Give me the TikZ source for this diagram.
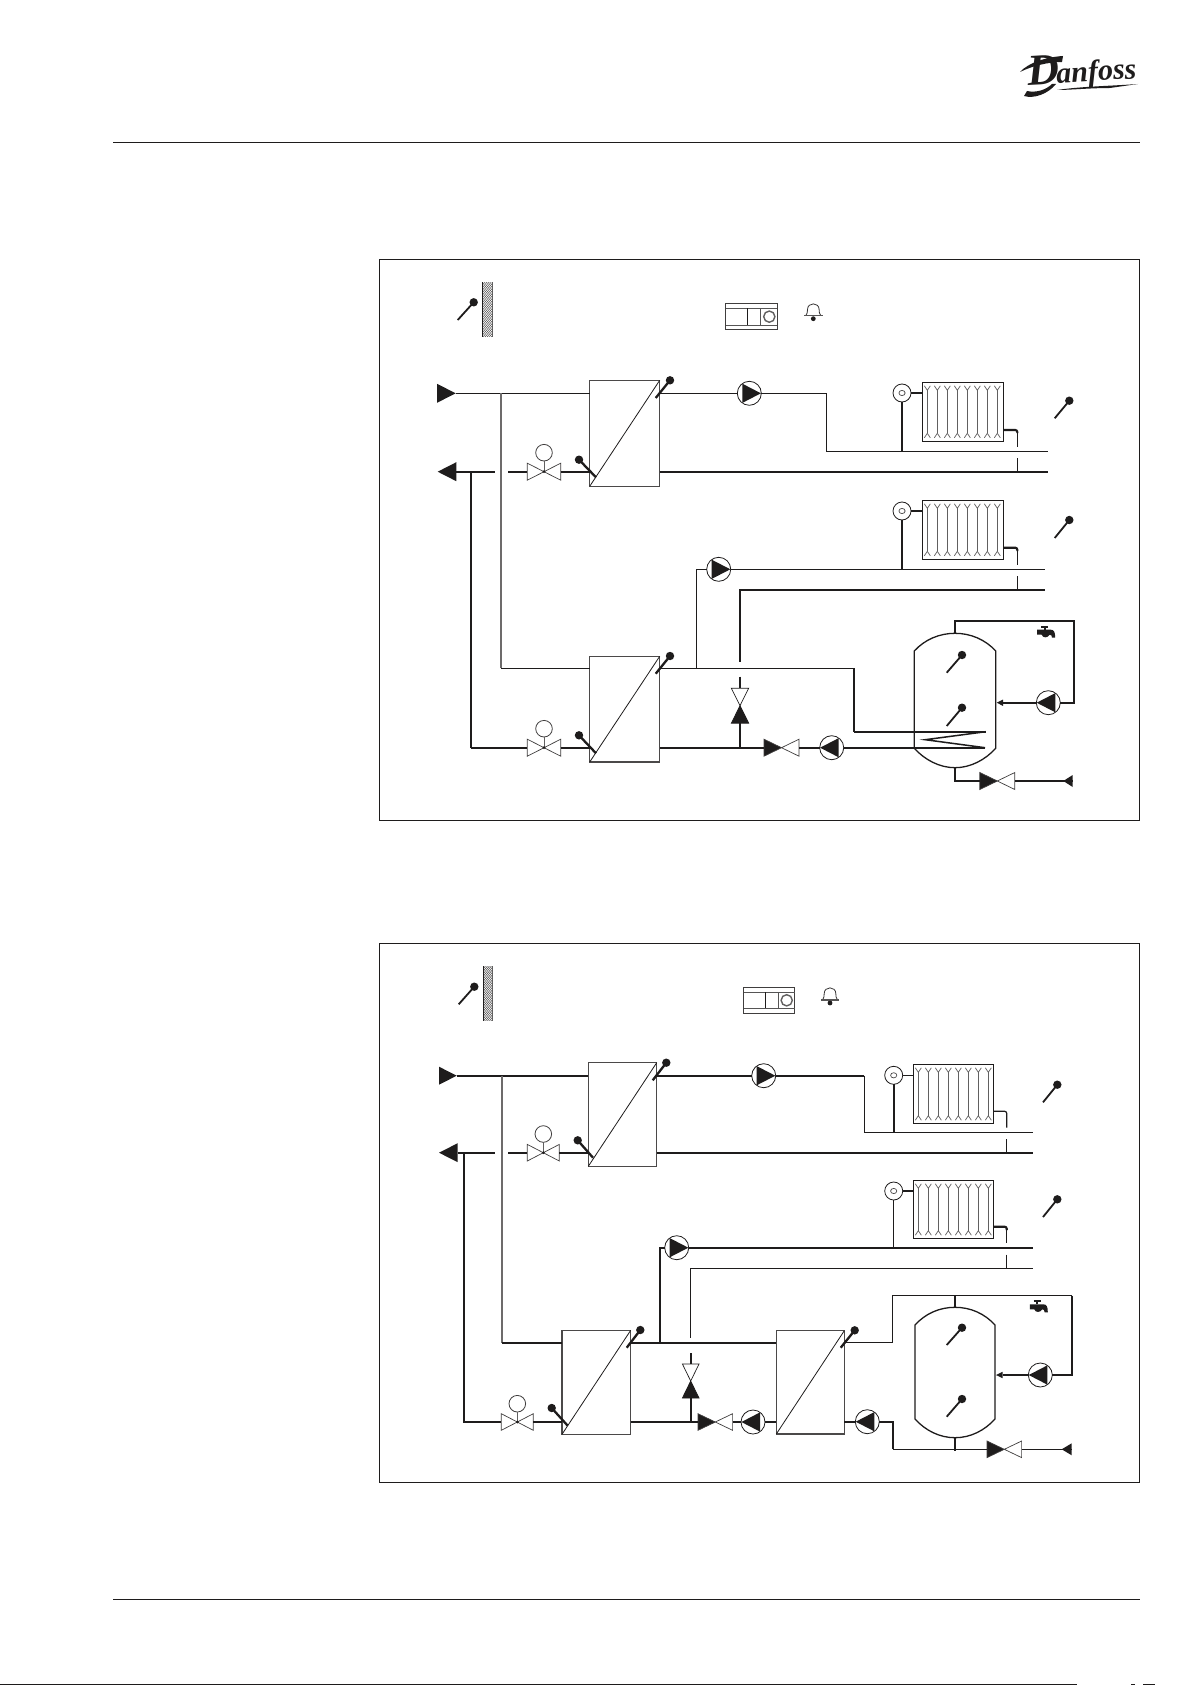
\documentclass[tikz,border=0pt]{standalone}
\usepackage{fontspec}
\setmainfont{Liberation Serif}
\definecolor{ink}{HTML}{1E1C1C}
\tikzset{
  pipe/.style={draw=ink,line width=1.2pt,line join=miter},
  pipem/.style={draw=ink,line width=1.5pt,line join=miter},
  pipek/.style={draw=ink,line width=2.1pt,line join=miter},
  pipeg/.style={draw=ink!65,line width=1.7pt,line join=miter},
  frameb/.style={draw=ink,line width=1.1pt},
  hxbox/.style={draw=ink!80,line width=1.1pt,rectangle,anchor=north west,inner sep=0pt,outer sep=0pt},
  pumpn/.style={draw=ink,line width=0.8pt,circle,minimum size=24pt,inner sep=0pt,outer sep=0pt},
  headn/.style={draw=ink!85,line width=0.8pt,circle,minimum size=16.6pt,inner sep=0pt,outer sep=0pt},
  trvn/.style={draw=ink,line width=0.8pt,circle,minimum size=18pt,inner sep=0pt,outer sep=0pt},
  radn/.style={draw=ink,line width=1pt,rectangle,anchor=north west,inner sep=0pt,outer sep=0pt},
  vbox/.style={rectangle,inner sep=0pt,outer sep=0pt},
  vtri/.style={draw=ink!85,line width=0.7pt,line join=miter},
  radl/.style={draw=ink!70,line width=0.7pt},
  sens/.style={draw=ink,line width=1.8pt},
  sensk/.style={draw=ink,line width=2.3pt}
}
\newcommand\symPump[4]{%
  \node[pumpn] (#1) at (#2,#3) {};
  \fill[ink,shift={(#2,#3)},xscale=#4] (-7,-9.6) -- (11.6,0) -- (-7,9.6) -- cycle;}
\newcommand\symHX[5]{%
  \node[hxbox,minimum width=#4pt,minimum height=#5pt] (#1) at (#2,#3) {};
  \draw[draw=ink,line width=0.8pt] (#1.south west) -- (#1.north east);}
\newcommand\symSensor[5]{%
  \draw[#5] (#1,#2) -- (#3,#4);
  \fill[ink] (#3,#4) circle (4.2);}
\newcommand\symValveH[7]{%
  \node[vbox,minimum width=2*#4pt,minimum height=2*#5pt] (#1) at (#2,#3) {};
  \filldraw[vtri,fill=#6] (#2,#3) -- (#2-#4,#3-#5) -- (#2-#4,#3+#5) -- cycle;
  \filldraw[vtri,fill=#7] (#2,#3) -- (#2+#4,#3-#5) -- (#2+#4,#3+#5) -- cycle;}
\newcommand\symValveV[5]{%
  \node[vbox,minimum width=2*#5pt,minimum height=2*#4pt] (#1) at (#2,#3) {};
  \filldraw[vtri,draw=ink,fill=white] (#2,#3) -- (#2-#5,#3-#4) -- (#2+#5,#3-#4) -- cycle;
  \filldraw[vtri,draw=ink,fill=ink] (#2,#3) -- (#2-#5,#3+#4) -- (#2+#5,#3+#4) -- cycle;}
\newcommand\symMotor[4]{% name, valve name, x, y of head
  \node[headn] (#1) at (#3,#4) {};
  \draw[draw=ink!70,line width=0.9pt] (#1) -- (#2.center);
  \fill[ink] (#2.center) circle (1.5);}
\newcommand\symRad[5]{%
  \node[radn,minimum width=#4pt,minimum height=#5pt] (#1) at (#2,#3) {};
  \foreach \ri in {0,...,7} {
    \pgfmathsetmacro\rcx{#2+5+10*\ri}
    \draw[radl] (\rcx-3,#3+3.5) -- (\rcx,#3+8) -- (\rcx+3,#3+3.5);
    \draw[radl] (\rcx,#3+8) -- (\rcx,#3+#5-8);
    \draw[radl] (\rcx-3,#3+#5-3.5) -- (\rcx,#3+#5-8) -- (\rcx+3,#3+#5-3.5);
  }}
\newcommand\symTRV[3]{%
  \node[trvn] (#1) at (#2,#3) {};
  \draw[draw=ink!80,line width=0.7pt] (#2,#3) circle [x radius=3.1,y radius=2.6];}
\newcommand\symWall[4]{%
  \begin{scope}
    \clip (#1,#2) rectangle (#3,#4);
    \foreach \wi in {0,...,30} {
      \draw[draw=ink!85,line width=0.5pt] (#1,#2+\wi*2.5) -- (#3,#2+\wi*2.5-12);
    }
  \end{scope}
  \draw[draw=ink,line width=1.2pt] (#1,#2) -- (#1,#4);
  \draw[draw=ink!70,line width=0.5pt] (#3,#2) -- (#3,#4);}
\newcommand\symCtrl[8]{% x1 y1 x2 y2 h1 h2 v1 v2
  \draw[draw=ink!85,line width=1pt] (#1,#2) rectangle (#3,#4);
  \draw[draw=ink!75,line width=0.8pt] (#1,#5) -- (#3,#5) (#1,#6) -- (#3,#6) (#8,#5) -- (#8,#6);
  \draw[draw=ink,line width=1pt] (#7,#5) -- (#7,#6);
  \draw[draw=ink!70,line width=1.4pt] (#3-8,#5/2+#6/2) circle (5.6);}
\newcommand\symBell[3]{% cx top base
  \draw[draw=ink!90,line width=0.8pt] (#1-7.5,#3) .. controls (#1-6,#3-2) and (#1-5.8,#3-4) .. (#1-5.8,#2+6) .. controls (#1-5.8,#2-1.5) and (#1+5.8,#2-1.5) .. (#1+5.8,#2+6) .. controls (#1+5.8,#3-4) and (#1+6,#3-2) .. (#1+7.5,#3);
  \draw[draw=ink!75,line width=1.5pt] (#1-9.2,#3) -- (#1+9.2,#3);
  \fill[ink] (#1,#3+3) circle (2.4);}
\newcommand\symTap[2]{%
  \begin{scope}[shift={(#1,#2)}]
  \fill[ink] (-8.5,-3) -- (5,-3) .. controls (8,-3) and (9.5,-1) .. (9.5,5) -- (6.3,5) .. controls (6.3,3) and (5.5,2) .. (4,2) .. controls (2,5.5) and (-3,5.5) .. (-4,2) -- (-8.5,2) -- cycle;
  \draw[draw=ink,line width=1.8pt] (-4.7,-6) -- (2.7,-6);
  \draw[draw=ink,line width=2.2pt] (-1,-6) -- (-1,-3);
  \end{scope}}
\newcommand\symTank[6]{% left right apex top side-top side-bottom apex-bottom
  \draw[draw=ink,line width=1.3pt]
    (#1,#4) .. controls (#1+10.4,#4-11.5) and (#1/2+#2/2-15.5,#3) .. (#1/2+#2/2,#3)
    .. controls (#1/2+#2/2+15.5,#3) and (#2-10.4,#4-11.5) .. (#2,#4)
    -- (#2,#5)
    .. controls (#2-10.4,#5+11.5) and (#1/2+#2/2+15.5,#6) .. (#1/2+#2/2,#6)
    .. controls (#1/2+#2/2-15.5,#6) and (#1+10.4,#5+11.5) .. (#1,#5) -- cycle;}
\begin{document}
\begin{tikzpicture}[x=1pt,y=-1pt]
\useasboundingbox (0,0) rectangle (1192,1685);
\fill[white] (0,0) rectangle (1192,1685);

% page furniture
\draw[draw=ink,line width=1.1pt] (113,142.7) -- (1140,142.7);
\draw[draw=ink,line width=1.1pt] (113,1599.3) -- (1140,1599.3);
\draw[draw=ink,line width=1.4pt] (0,1684.5) -- (1077,1684.5);
\draw[draw=ink,line width=1.4pt] (1131,1684.5) -- (1135,1684.5) (1143,1684.5) -- (1155,1684.5);
\node[anchor=base east,inner sep=0pt,text=ink,font=\bfseries\itshape,rotate=3.5] (logo) at (1137,78.5)
  {\fontsize{44}{44}\selectfont D\kern-3pt\fontsize{30}{30}\selectfont anfoss};
\fill[ink] (1020,72) .. controls (1028,63) and (1046,57) .. (1063,56) -- (1062,62) .. controls (1048,62) and (1032,66) .. (1020,72) -- cycle;
\fill[ink] (1057,90) .. controls (1080,86.5) and (1110,86) .. (1138,84) -- (1110,88) .. controls (1090,88) and (1070,90) .. (1057,90) -- cycle;
\fill[ink] (1024,96) .. controls (1034,99) and (1048,94) .. (1056,84) -- (1052,84) .. controls (1046,90) and (1036,93) .. (1027,91) -- cycle;

\draw[frameb] (379.3,259.3) rectangle (1139.7,820.3);
\draw[frameb] (379.3,943.7) rectangle (1139.7,1482.3);

%%%%%%%%%%%%%%%% diagram 1
\symSensor{457.7}{320}{473.7}{302.3}{sens}
\symWall{482.7}{282.3}{492.7}{336.7}
\symCtrl{725.7}{303.3}{777.3}{329.3}{308.3}{325}{747.3}{760.7}
\symBell{813.3}{303.5}{315.7}

% inlet / outlet arrows
\coordinate (a1in) at (455.7,393.3);
\fill[ink] (437,383.8) -- (a1in) -- (437,402.8) -- cycle;
\coordinate (a1out) at (456.3,471.7);
\fill[ink] (437.7,471.7) -- (456.3,462.2) -- (456.3,481.2) -- cycle;

\symHX{hx1}{589.7}{380.3}{70}{106}
\symHX{hx2}{589.7}{656.3}{70}{105.7}
\symPump{p1}{749.3}{393.3}{1}
\symPump{p2}{718.7}{569.3}{1}
\symPump{p3}{831.7}{747.7}{-1}
\symPump{p4}{1048.3}{702.7}{-1}
\symValveH{v1}{544}{471.7}{16.7}{8.5}{white}{white}
\symMotor{h1}{v1}{544}{452.7}
\symValveH{v2}{544}{747.7}{16.7}{8.5}{white}{white}
\symMotor{h2}{v2}{544}{728.7}
\symValveH{v3}{781.5}{747.7}{17.5}{8.5}{ink}{white}
\symValveV{v4}{740}{705.7}{17.5}{8.7}
\symValveH{v5}{997.3}{781}{17.5}{8.5}{ink}{white}

\symSensor{655.7}{398}{670}{380.3}{sensk}
\symSensor{596}{477.3}{579}{459.7}{sensk}
\symSensor{655.7}{673.7}{670}{656}{sensk}
\symSensor{596}{753.3}{579}{735.3}{sensk}

% radiators
\symRad{r1}{922.3}{382.3}{81}{59}
\symTRV{t1}{902}{393}
\symRad{r2}{922.3}{500.3}{81}{59}
\symTRV{t2}{902}{511}
\symSensor{1054.7}{418.3}{1069.3}{400.7}{sens}
\symSensor{1054.7}{538}{1069.3}{520}{sens}

% supply line
\coordinate (j1a) at (501,393.3);
\coordinate (c1a) at (826.7,393.3);
\coordinate (c1b) at (826.7,451.7);
\coordinate (e1a) at (1048,451.7);
\coordinate (e1b) at (1048,471.7);
\coordinate (g1a) at (495,471.7);
\coordinate (g1b) at (508,471.7);
\draw[pipe] (a1in) -- (hx1.west |- a1in);
\draw[pipe] (hx1.east |- a1in) -- (p1);
\draw[pipe] (p1) -- (c1a);
\draw[pipem] (c1a) -- (c1b);
\draw[pipe] (c1b) -- (e1a);
\draw[pipek] (hx1.east |- e1b) -- (e1b);
\draw[pipek] (a1out) -- (g1a);
\draw[pipek] (g1b) -- (v1.west);
\draw[pipek] (v1.east) -- (hx1.west |- v1);
\coordinate (c1c) at (501,668.3);
\coordinate (j1b) at (471,471.7);
\coordinate (c1d) at (471,747.7);
\draw[pipeg] (j1a) -- (c1c);
\draw[pipem] (c1c) -- (hx2.west |- c1c);
\draw[pipem] (j1b) -- (c1d);
\draw[pipek] (c1d) -- (v2.west);
\draw[pipek] (v2.east) -- (hx2.west |- v2);

% hx2 secondary
\coordinate (c1e) at (854,668.3);
\coordinate (c1f) at (854,731.7);
\coordinate (co1) at (985.7,731.7);
\coordinate (co2) at (925.3,739.7);
\coordinate (co3) at (985,747.7);
\coordinate (j1c) at (696.3,668.3);
\coordinate (c1g) at (696.3,569.3);
\coordinate (e2a) at (1045,569.3);
\coordinate (c1h) at (740,661.7);
\coordinate (c1i) at (740,590);
\coordinate (e2b) at (1045,590);
\coordinate (g1c) at (740,676.7);
\coordinate (j1d) at (740,747.7);
\draw[pipem] (hx2.east |- c1e) -- (c1e) -- (c1f);
\draw[pipek] (c1f) -- (co1);
\draw[draw=ink,line width=1.5pt,line join=miter] (co1) -- (co2) -- (co3);
\draw[pipek] (co3) -- (p3);
\draw[pipek] (p3) -- (v3.east);
\draw[pipek] (v3.west) -- (hx2.east |- v3);
\draw[pipe] (j1c) -- (c1g) -- (p2);
\draw[pipe] (p2) -- (e2a);
\draw[pipek] (c1h) -- (c1i) -- (e2b);
\draw[pipek] (g1c) -- (v4.north);
\draw[pipek] (v4.south) -- (j1d);

% radiator 1 and 2 connections
\draw[pipek] (t1) -- (r1.west |- t1);
\draw[pipek] (t1) -- (t1 |- e1a);
\draw[pipek] (t2) -- (r2.west |- t2);
\draw[pipek] (t2) -- (t2 |- e2a);
\coordinate (b1a) at (1003.3,430);
\coordinate (b1b) at (1017.3,430);
\coordinate (b1c) at (1017.3,446.7);
\coordinate (b1d) at (1017.3,458.3);
\draw[pipek,rounded corners=2pt] (b1a) -- (b1b) -- (1017.3,433);
\draw[pipe] (1017.3,432) -- (b1c);
\draw[pipe] (b1d) -- (b1d |- e1b);
\coordinate (b2a) at (1003.3,547.7);
\coordinate (b2b) at (1017.3,547.7);
\coordinate (b2c) at (1017.3,565);
\coordinate (b2d) at (1017.3,576);
\draw[pipek,rounded corners=2pt] (b2a) -- (b2b) -- (1017.3,551);
\draw[pipe] (1017.3,550) -- (b2c);
\draw[pipe] (b2d) -- (b2d |- e2b);

% tank 1
\symTank{914.3}{995.7}{633.3}{651}{748.3}{767.7}
\symSensor{946.7}{672.7}{962}{655}{sens}
\symSensor{946.7}{726}{962}{707.7}{sens}
\symTap{1045.7}{632.7}
\coordinate (s1a) at (955,633.3);
\coordinate (s1b) at (955,620.7);
\coordinate (s1c) at (1074.3,620.7);
\coordinate (s1d) at (1074.3,702.7);
\coordinate (s1e) at (1003,702.7);
\draw[pipek] (s1a) -- (s1b) -- (s1c) -- (s1d) -- (p4);
\draw[pipek] (p4) -- (s1e);
\fill[ink] (996.7,702.7) -- (1003,699.5) -- (1003,705.9) -- cycle;
\coordinate (s1f) at (955,767.7);
\coordinate (s1g) at (955,781);
\coordinate (a1c) at (1072.7,781);
\draw[pipek] (s1f) -- (s1g) -- (v5.west);
\draw[pipek] (v5.east) -- (a1c);
\fill[ink] (1063.3,781) -- (1072.7,775) -- (1072.7,787) -- cycle;

%%%%%%%%%%%%%%%% diagram 2
\symSensor{458.7}{1004.3}{474.3}{986.7}{sens}
\symWall{483.3}{966.3}{492.7}{1020.7}
\symCtrl{743.7}{987.7}{794.7}{1013.3}{992.3}{1008.3}{765.7}{778.7}
\symBell{830}{987.5}{1000}

\coordinate (a2in) at (456.7,1075.7);
\fill[ink] (439,1066.7) -- (a2in) -- (439,1084.7) -- cycle;
\coordinate (a2out) at (457.7,1152.7);
\fill[ink] (439,1152.7) -- (457.7,1143.2) -- (457.7,1162.2) -- cycle;

\symHX{hxa}{588.3}{1062.7}{68.4}{103.6}
\symHX{hxb}{562}{1330.3}{68.7}{104}
\symHX{hxc}{776.3}{1330.7}{68}{103.3}
\symPump{pa}{763.7}{1075.7}{1}
\symPump{pb}{676.7}{1247.7}{1}
\symPump{pc}{753}{1422}{-1}
\symPump{pd}{867.3}{1421.7}{-1}
\symPump{pe}{1040.3}{1375}{-1}
\symValveH{va}{543.3}{1152.7}{16}{8.3}{white}{white}
\symMotor{ha}{va}{543.3}{1134}
\symValveH{vb}{517.3}{1422}{16}{8.3}{white}{white}
\symMotor{hb}{vb}{517.3}{1403.7}
\symValveH{vc}{715.3}{1422}{17.3}{8.3}{ink}{white}
\symValveV{vd}{690.7}{1381}{17}{8.3}
\symValveH{ve}{1004.3}{1449.3}{17.3}{8.3}{ink}{white}

\symSensor{652.7}{1080.3}{666.3}{1062.7}{sensk}
\symSensor{593}{1157.7}{577.7}{1140.3}{sensk}
\symSensor{626.7}{1347.7}{640.3}{1330}{sensk}
\symSensor{567.7}{1425.7}{551.7}{1408}{sensk}
\symSensor{840.7}{1347.7}{854.7}{1330.3}{sensk}

\symRad{ra}{913.3}{1064.3}{80}{59.4}
\symTRV{ta}{893.7}{1075.3}
\symRad{rb}{913.3}{1180.3}{80}{58.4}
\symTRV{tb}{893.7}{1191}
\symSensor{1043}{1102.3}{1057.3}{1084.7}{sens}
\symSensor{1043}{1217}{1057.3}{1199.3}{sens}

\coordinate (j2a) at (502.3,1075.7);
\coordinate (c2a) at (864.3,1075.7);
\coordinate (c2b) at (864.3,1132.7);
\coordinate (e3a) at (1033,1132.7);
\coordinate (e3b) at (1033,1152.7);
\coordinate (g2a) at (495,1152.7);
\coordinate (g2b) at (508,1152.7);
\draw[pipek] (a2in) -- (hxa.west |- a2in);
\draw[pipek] (hxa.east |- a2in) -- (pa);
\draw[pipek] (pa) -- (c2a);
\draw[pipem] (c2a) -- (c2b);
\draw[pipe] (c2b) -- (e3a);
\draw[pipek] (hxa.east |- e3b) -- (e3b);
\draw[pipek] (a2out) -- (g2a);
\draw[pipek] (g2b) -- (va.west);
\draw[pipek] (va.east) -- (hxa.west |- va);
\coordinate (c2c) at (502.3,1342.7);
\coordinate (j2b) at (464,1152.7);
\coordinate (c2d) at (464,1422);
\draw[pipeg] (j2a) -- (c2c);
\draw[pipek] (c2c) -- (hxb.west |- c2c);
\draw[pipek] (j2b) -- (c2d) -- (vb.west);
\draw[pipek] (vb.east) -- (hxb.west |- vb);

\coordinate (j2c) at (660,1342.7);
\coordinate (c2e) at (660,1247.7);
\coordinate (e4a) at (1033,1247.7);
\coordinate (c2f) at (690.7,1337.7);
\coordinate (c2g) at (690.7,1268.3);
\coordinate (e4b) at (1033,1268.3);
\coordinate (g2c) at (690.7,1353.3);
\coordinate (j2d) at (690.7,1422);
\draw[pipek] (hxb.east |- c2c) -- (hxc.west |- c2c);
\draw[pipek] (hxb.east |- j2d) -- (vc.west);
\draw[pipek] (vc.east) -- (pc);
\draw[pipek] (pc) -- (hxc.west |- pc);
\draw[pipek] (j2c) -- (c2e) -- (pb);
\draw[pipek] (pb) -- (e4a);
\draw[pipem] (c2f) -- (c2g);
\draw[pipe] (c2g) -- (e4b);
\draw[pipek] (g2c) -- (vd.north);
\draw[pipek] (vd.south) -- (j2d);

\draw[pipe] (ta) -- (ra.west |- ta);
\draw[pipek] (ta) -- (ta |- e3a);
\draw[pipe] (tb) -- (rb.west |- tb);
\draw[pipem] (tb) -- (tb |- e4a);
\coordinate (b3a) at (993.3,1111.3);
\coordinate (b3b) at (1006.7,1111.3);
\coordinate (b3c) at (1006.7,1127.7);
\coordinate (b3d) at (1006.7,1139);
\draw[pipe,rounded corners=2pt] (b3a) -- (b3b) -- (b3c);
\draw[pipe] (b3d) -- (b3d |- e3b);
\coordinate (b4a) at (993.3,1226.7);
\coordinate (b4b) at (1006.7,1226.7);
\coordinate (b4c) at (1006.7,1242.7);
\coordinate (b4d) at (1006.7,1254.5);
\draw[pipek,rounded corners=2pt] (b4a) -- (b4b) -- (1006.7,1230);
\draw[pipe] (1006.7,1229) -- (b4c);
\draw[pipe] (b4d) -- (b4d |- e4b);

% tank 2
\symTank{915}{995}{1307.3}{1325}{1419}{1437.7}
\symSensor{946.7}{1345}{962}{1327.7}{sens}
\symSensor{946.7}{1416.7}{962}{1399}{sens}
\symTap{1038.3}{1307.3}
\coordinate (s2a) at (844.3,1342.3);
\coordinate (s2b) at (892.7,1342.3);
\coordinate (s2c) at (892.7,1295.7);
\coordinate (s2d) at (955,1295.7);
\coordinate (s2e) at (955,1307.3);
\coordinate (s2f) at (1072.3,1295.7);
\coordinate (s2g) at (1072.3,1375);
\coordinate (s2h) at (1002.5,1375);
\draw[pipem] (s2a) -- (s2b) -- (s2c) -- (s2d);
\draw[pipe] (s2d) -- (s2e);
\draw[pipem] (s2d) -- (s2f);
\draw[pipek] (s2f) -- (s2g) -- (pe);
\draw[pipek] (pe) -- (s2h);
\fill[ink] (996,1375) -- (1002.5,1371.8) -- (1002.5,1378.2) -- cycle;
\coordinate (s2i) at (892.7,1421.7);
\coordinate (s2j) at (892.7,1449.3);
\coordinate (s2k) at (955,1437.7);
\coordinate (s2l) at (955,1450.5);
\coordinate (a2c) at (1071.7,1449.3);
\draw[pipek] (pd) -- (hxc.east |- pd);
\draw[pipek] (pd) -- (s2i) -- (s2j);
\draw[pipem] (s2j) -- (ve.west);
\draw[pipe] (s2k) -- (s2l);
\draw[pipe] (ve.east) -- (a2c);
\fill[ink] (1061.7,1449.3) -- (1071.7,1443.3) -- (1071.7,1455.3) -- cycle;
\end{tikzpicture}
\end{document}
